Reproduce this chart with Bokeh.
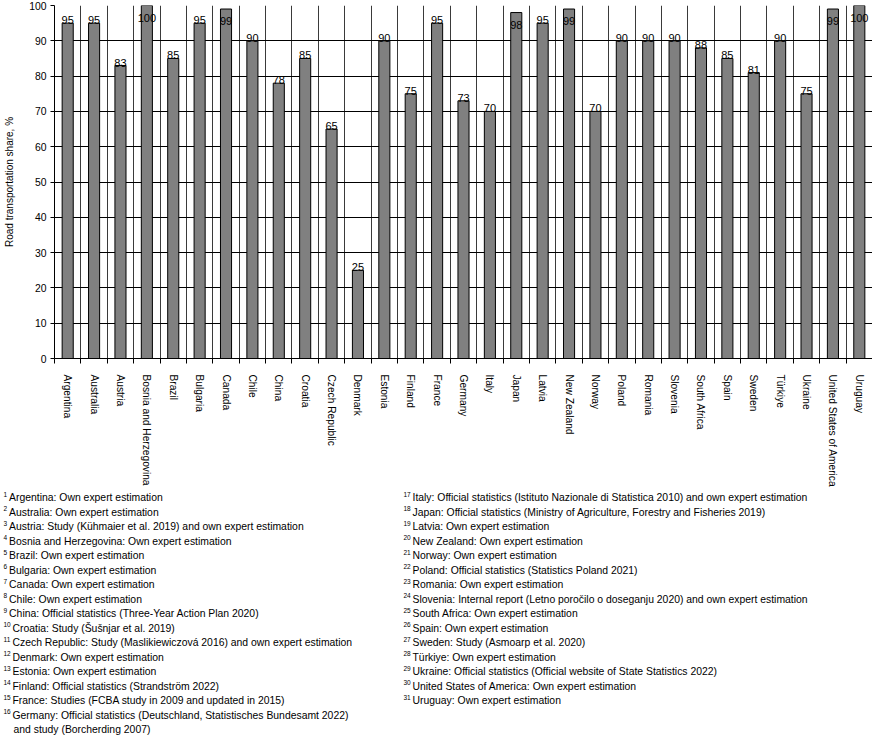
from bokeh.plotting import figure
from bokeh.models import FixedTicker, Range1d, ColumnDataSource
from bokeh.layouts import column
from bokeh.core.properties import value
from bokeh.embed import file_html
from bokeh.resources import INLINE

countries = ["Argentina", "Australia", "Austria", "Bosnia and Herzegovina", "Brazil",
             "Bulgaria", "Canada", "Chile", "China", "Croatia", "Czech Republic",
             "Denmark", "Estonia", "Finland", "France", "Germany", "Italy", "Japan",
             "Latvia", "New Zealand", "Norway", "Poland", "Romania", "Slovenia",
             "South Africa", "Spain", "Sweden", "Türkiye", "Ukraine",
             "United States of America", "Uruguay"]
shares = [95, 95, 83, 100, 85, 95, 99, 90, 78, 85, 65, 25, 90, 75, 95, 73, 70, 98,
          95, 99, 70, 90, 90, 90, 88, 85, 81, 90, 75, 99, 100]
sources = [
    "Own expert estimation",
    "Own expert estimation",
    "Study (Kühmaier et al. 2019) and own expert estimation",
    "Own expert estimation",
    "Own expert estimation",
    "Own expert estimation",
    "Own expert estimation",
    "Own expert estimation",
    "Official statistics (Three-Year Action Plan 2020)",
    "Study (Šušnjar et al. 2019)",
    "Study (Maslikiewiczová 2016) and own expert estimation",
    "Own expert estimation",
    "Own expert estimation",
    "Official statistics (Strandström 2022)",
    "Studies (FCBA study in 2009 and updated in 2015)",
    "Official statistics (Deutschland, Statistisches Bundesamt 2022)\nand study (Borcherding 2007)",
    "Official statistics (Istituto Nazionale di Statistica 2010) and own expert estimation",
    "Official statistics (Ministry of Agriculture, Forestry and Fisheries 2019)",
    "Own expert estimation",
    "Own expert estimation",
    "Own expert estimation",
    "Official statistics (Statistics Poland 2021)",
    "Own expert estimation",
    "Internal report (Letno poročilo o doseganju 2020) and own expert estimation",
    "Own expert estimation",
    "Own expert estimation",
    "Study (Asmoarp et al. 2020)",
    "Own expert estimation",
    "Official statistics (Official website of State Statistics 2022)",
    "Own expert estimation",
    "Own expert estimation",
]
y_ticks = [0, 10, 20, 30, 40, 50, 60, 70, 80, 90, 100]
y_label = "Road transportation share, %"
left_count = 16

FONT = "Liberation Sans"
FS = "10.4px"

W = 872
H1 = 490
H2 = 246

n = len(countries)
centers = [i + 0.5 for i in range(n)]
bounds = list(range(n + 1))

p = figure(width=W, height=H1, x_range=Range1d(0, n), y_range=Range1d(0, 100),
           output_backend="svg", toolbar_location=None,
           min_border_left=54, min_border_right=0, min_border_top=5, min_border_bottom=130)
p.frame_align = False
p.outline_line_color = None

src = ColumnDataSource(dict(x=centers, top=shares))
p.vbar(x="x", top="top", width=0.42, bottom=0, source=src,
       fill_color="#808080", line_color="black", line_width=1)

# value labels
above = ColumnDataSource(dict(x=[c for c, v in zip(centers, shares) if v < 98],
                              y=[v for v in shares if v < 98],
                              t=[str(v) for v in shares if v < 98]))
inside = ColumnDataSource(dict(x=[c for c, v in zip(centers, shares) if v >= 98],
                               y=[v for v in shares if v >= 98],
                               t=[str(v) for v in shares if v >= 98]))
p.text(x="x", y="y", text="t", source=above, text_align="center", text_baseline="bottom",
       text_font=value(FONT), text_font_size="11px", text_color="black", y_offset=1)
p.text(x="x", y="y", text="t", source=inside, text_align="center", text_baseline="top",
       text_font=value(FONT), text_font_size="11px", text_color="black", y_offset=8)

# x axis: labels at centers, ticks at boundaries
p.xaxis.ticker = FixedTicker(ticks=centers, minor_ticks=bounds)
p.xaxis.major_label_overrides = {c: name for c, name in zip(centers, countries)}
p.xaxis.major_label_orientation = "vertical"
p.xaxis.major_tick_out = 0
p.xaxis.major_tick_in = 0
p.xaxis.minor_tick_out = 5
p.xaxis.minor_tick_in = 0
p.xaxis.minor_tick_line_color = "black"
p.xaxis.major_label_standoff = 11
p.xaxis.major_label_text_font = FONT
p.xaxis.major_label_text_font_size = "10.2px"
p.xaxis.major_label_text_color = "black"
p.xaxis.axis_line_color = "black"

p.xgrid.ticker = FixedTicker(ticks=bounds)
p.xgrid.grid_line_color = "#3a3a3a"
p.xgrid.grid_line_width = 1

# y axis
p.yaxis.ticker = FixedTicker(ticks=y_ticks)
p.yaxis.axis_label = y_label
p.yaxis.axis_label_text_font = FONT
p.yaxis.axis_label_text_font_size = "10px"
p.yaxis.axis_label_text_font_style = "normal"
p.yaxis.axis_label_text_color = "black"
p.yaxis.axis_label_standoff = 11
p.yaxis.major_label_text_font = FONT
p.yaxis.major_label_text_font_size = FS
p.yaxis.major_label_text_color = "black"
p.yaxis.major_tick_out = 4
p.yaxis.major_tick_in = 0
p.yaxis.minor_tick_line_color = None
p.yaxis.major_label_standoff = 4
p.yaxis.axis_line_color = "black"
p.yaxis.major_tick_line_color = "black"
p.ygrid.grid_line_color = "black"
p.ygrid.grid_line_width = 1

# footnotes figure (pixel coordinates)
q = figure(width=W, height=H2, x_range=Range1d(0, W), y_range=Range1d(H2, 0),
           output_backend="svg", toolbar_location=None,
           x_axis_location=None, y_axis_location=None, min_border=0)
q.frame_align = False
q.grid.visible = False
q.outline_line_color = None

LINE = 14.5
FIRST = 7
col_x = [3, 403]
sup_x, sup_y, sup_t = [], [], []
txt_x, txt_y, txt_t = [], [], []
for i, (c, s) in enumerate(zip(countries, sources)):
    col = 0 if i < left_count else 1
    row = i if col == 0 else i - left_count
    num = str(i + 1)
    lines = (c + ": " + s).split("\n")
    cy = FIRST + row * LINE
    sup_x.append(col_x[col])
    sup_y.append(cy - 6)
    sup_t.append(num)
    tx = col_x[col] + 3.4 * len(num) + 2.2
    for k, ln in enumerate(lines):
        txt_x.append(tx if k == 0 else col_x[col] + 10)
        txt_y.append(cy + k * LINE)
        txt_t.append(ln)

q.text(x=sup_x, y=sup_y, text=sup_t, text_font=value(FONT), text_font_size="6.5px",
       text_baseline="top", text_align="left", text_color="black")
q.text(x=txt_x, y=txt_y, text=txt_t, text_font=value(FONT), text_font_size=FS,
       text_baseline="middle", text_align="left", text_color="black")

layout = column(p, q, spacing=0)
open("out.html", "w").write(file_html(layout, INLINE))
